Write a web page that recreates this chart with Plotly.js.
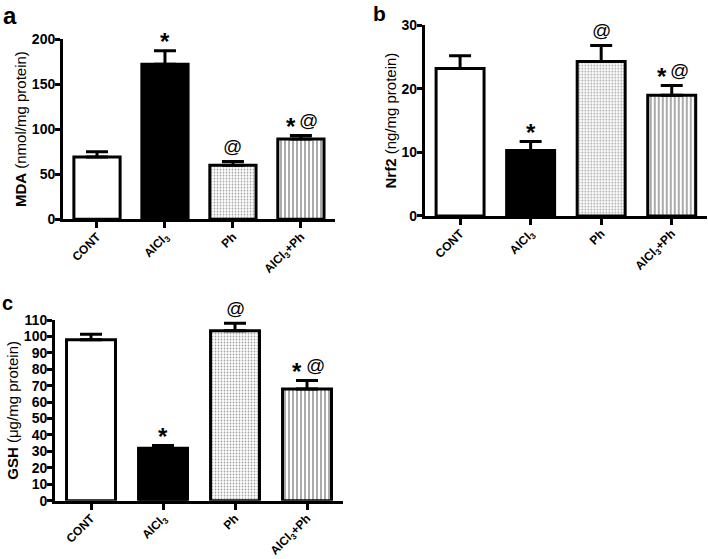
<!DOCTYPE html>
<html>
<head>
<meta charset="utf-8">
<script src="https://cdn.plot.ly/plotly-3.0.1.min.js"></script>
<style>html,body{margin:0;padding:0;background:#fff;}</style>
</head>
<body>
<div id="chart" style="width:708px;height:559px;"></div>
<script>
// ---- data ----
var categories = ["CONT", "AlCl<sub>3</sub>", "Ph", "AlCl<sub>3</sub>+Ph"];
var mdaValues = [69, 172, 60, 89];
var mdaErrors = [6, 15, 4, 4];
var nrf2Values = [23.2, 10.3, 24.3, 19.0];
var nrf2Errors = [2.0, 1.4, 2.5, 1.5];
var gshValues = [98, 32, 103.5, 68];
var gshErrors = [3.3, 1.6, 4.5, 5.2];
var sigLabels = ["", "*", "@", "*@"];
var mdaTicks = [0, 50, 100, 150, 200];
var nrf2Ticks = [0, 10, 20, 30];
var gshTicks = [0, 10, 20, 30, 40, 50, 60, 70, 80, 90, 100, 110];

// ---- styles ----
var FONT = "Arial, 'Liberation Sans', sans-serif";
var fills = ["#ffffff", "#000000", "#ffffff", "#ffffff"];
var patShapes = ["", "", ".", "|"];
var xIdx = [0, 1, 2, 3];

function barTrace(vals, errs, xa, ya) {
  return {
    type: "bar",
    x: xIdx,
    y: vals,
    xaxis: xa, yaxis: ya,
    width: 0.68,
    marker: {
      color: fills,
      line: {color: "#000", width: 3},
      pattern: {shape: patShapes, fgcolor: "#000", bgcolor: "#fff", size: [6, 6, 3, 4], solidity: [0.3, 0.3, 0.28, 0.45], fillmode: "overlay"}
    },
    error_y: {type: "data", symmetric: false, array: errs, arrayminus: errs.map(function(){return 0;}), color: "#000", thickness: 3, width: 11},
    hoverinfo: "none",
    showlegend: false
  };
}

var data = [
  barTrace(mdaValues, mdaErrors, "x", "y"),
  barTrace(nrf2Values, nrf2Errors, "x2", "y2"),
  barTrace(gshValues, gshErrors, "x3", "y3")
];

function sigAnnotations(vals, errs, xa, ya) {
  var out = [];
  for (var i = 0; i < vals.length; i++) {
    var s = sigLabels[i];
    if (!s) continue;
    var both = s.length > 1;
    for (var k = 0; k < s.length; k++) {
      var ch = s.charAt(k);
      var isStar = ch === "*";
      out.push({
        xref: xa, yref: ya, x: xIdx[i], y: vals[i] + errs[i],
        text: isStar ? "<b>*</b>" : "@",
        showarrow: false, yanchor: "middle",
        yshift: isStar ? 9 : 15,
        xshift: both ? (isStar ? -10 : 8) : 0,
        font: {family: FONT, size: isStar ? 24 : 19, color: "#000"}
      });
    }
  }
  return out;
}

function xAxis(domain, anchor) {
  return {
    domain: domain, anchor: anchor, range: [-0.5, 3.5],
    tickmode: "array", tickvals: xIdx, ticktext: categories.map(function(c){return "<b>" + c + "</b>";}),
    tickangle: -45, ticks: "outside", ticklen: 6, tickwidth: 3, tickcolor: "#000",
    ticklabelstandoff: -3,
    showline: true, linewidth: 3, linecolor: "#000", showgrid: false, zeroline: false,
    tickfont: {family: FONT, size: 12, color: "#000"}, fixedrange: true
  };
}
function yAxis(domain, anchor, range, ticks, title) {
  return {
    domain: domain, anchor: anchor, range: range,
    tickmode: "array", tickvals: ticks, ticktext: ticks.map(function(t){return "<b>" + t + "</b>";}),
    ticks: "outside", ticklen: 5, tickwidth: 3, tickcolor: "#000",
    ticklabelstandoff: -3,
    showline: true, linewidth: 3, linecolor: "#000", showgrid: false, zeroline: false,
    tickfont: {family: FONT, size: 14, color: "#000"},
    title: {text: title, font: {family: FONT, size: 15, color: "#000"}, standoff: 2},
    fixedrange: true
  };
}

var layout = {
  width: 708, height: 559,
  margin: {l: 0, r: 0, t: 0, b: 0},
  paper_bgcolor: "#fff", plot_bgcolor: "rgba(0,0,0,0)",
  font: {family: FONT, color: "#000"},
  bargap: 0.3,
  xaxis: xAxis([0.089, 0.473], "y"),
  yaxis: yAxis([0.608, 0.930], "x", [0, 200], mdaTicks, "<b>MDA</b> (nmol/mg protein)"),
  xaxis2: xAxis([0.600, 0.9986], "y2"),
  yaxis2: yAxis([0.6136, 0.955], "x2", [0, 30], nrf2Ticks, "<b>Nrf2</b> (ng/mg protein)"),
  xaxis3: xAxis([0.0777, 0.4845], "y3"),
  yaxis3: yAxis([0.1043, 0.4275], "x3", [0, 110], gshTicks, "<b>GSH</b> (μg/mg protein)"),
  annotations: []
    .concat(sigAnnotations(mdaValues, mdaErrors, "x", "y"))
    .concat(sigAnnotations(nrf2Values, nrf2Errors, "x2", "y2"))
    .concat(sigAnnotations(gshValues, gshErrors, "x3", "y3"))
    .concat([
      {xref: "paper", yref: "paper", x: 1/708, y: 1 - 0/559, xanchor: "left", yanchor: "top", text: "<b>a</b>", showarrow: false, font: {family: FONT, size: 24, color: "#000"}},
      {xref: "paper", yref: "paper", x: 371/708, y: 1 - 0/559, xanchor: "left", yanchor: "top", text: "<b>b</b>", showarrow: false, font: {family: FONT, size: 21, color: "#000"}},
      {xref: "paper", yref: "paper", x: 0/708, y: 1 - 290/559, xanchor: "left", yanchor: "top", text: "<b>c</b>", showarrow: false, font: {family: FONT, size: 20, color: "#000"}}
    ])
};

Plotly.newPlot("chart", data, layout, {staticPlot: true, displayModeBar: false});
</script>
</body>
</html>
